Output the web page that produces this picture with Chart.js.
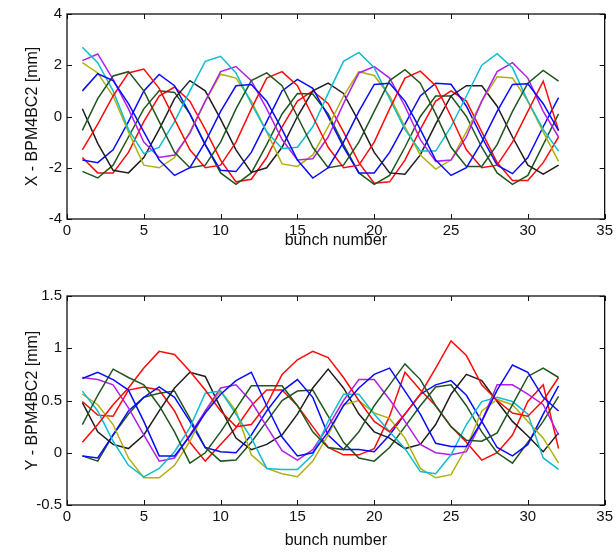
<!DOCTYPE html>
<html>
<head>
<meta charset="utf-8">
<script src="https://cdn.jsdelivr.net/npm/chart.js@4.4.1/dist/chart.umd.min.js"></script>
<style>
  html, body { margin: 0; padding: 0; background: #fff; }
  #wrap { position: relative; width: 616px; height: 554px; }
  canvas { position: absolute; left: 0; }
  #topChart { top: 0; }
  #bottomChart { top: 277px; }
</style>
</head>
<body>
<div id="wrap">
  <canvas id="topChart" width="616" height="277"></canvas>
  <canvas id="bottomChart" width="616" height="277"></canvas>
</div>
<script>
// bunch index (x axis)
const bunches = [1, 2, 3, 4, 5, 6, 7, 8, 9, 10, 11, 12, 13, 14, 15, 16,
                 17, 18, 19, 20, 21, 22, 23, 24, 25, 26, 27, 28, 29, 30, 31, 32];

// tick labels
const xTicks = [0, 5, 10, 15, 20, 25, 30, 35];
const xTopTicks = [-4, -2, 0, 2, 4];
const yBottomTicks = [-0.5, 0, 0.5, 1, 1.5];

// MATLAB colour order, 10 traces
const traceColors = ["#0a0aff", "#205520", "#ff0a0a", "#10bcd0", "#b020e8",
                     "#b0b010", "#1e1e1e", "#0a0aff", "#205520", "#ff0a0a"];

// --- X - BPM4BC2 [mm] ---
const xBlue1 = [1.0, 1.67, 1.4, 0.5, -0.6, -1.7, -2.3, -2.0, -1.0, 0.2, 1.2, 1.25, 0.6, -0.5, -1.7, -2.4,
                -2.0, -1.0, 0.2, 1.25, 1.3, 0.6, -0.5, -1.7, -2.3, -2.0, -1.0, 0.2, 1.25, 1.28, 0.5, -0.55];
const xGreen1 = [-0.54, 0.7, 1.58, 1.75, 1.0, -0.2, -1.4, -2.0, -1.9, -1.0, 0.3, 1.4, 1.7, 1.2, 0.0, -1.2,
                 -2.0, -1.9, -1.0, 0.2, 1.4, 1.83, 1.3, 0.1, -1.2, -1.95, -1.95, -1.1, 0.2, 1.3, 1.8, 1.38];
const xRed1 = [-1.3, -0.3, 0.8, 1.7, 1.85, 1.1, -0.1, -1.3, -2.0, -1.9, -1.0, 0.3, 1.5, 1.75, 1.2, 0.0,
               -1.2, -2.0, -1.9, -1.0, 0.3, 1.5, 1.77, 1.2, 0.0, -1.3, -2.0, -1.9, -1.0, 0.2, 1.38, -0.55];
const xCyan = [2.7, 2.1, 1.0, -0.5, -1.45, -1.2, -0.2, 1.0, 2.15, 2.35, 1.7, 0.5, -0.6, -1.25, -1.2, -0.4,
               0.9, 2.15, 2.5, 1.9, 0.7, -0.5, -1.35, -1.35, -0.4, 0.8, 2.0, 2.45, 1.9, 0.6, -0.5, -1.35];
const xMagenta = [2.18, 2.44, 1.45, 0.3, -1.0, -1.6, -1.5, -0.65, 0.6, 1.75, 1.95, 1.4, 0.3, -0.9, -1.7, -1.65,
                  -0.8, 0.5, 1.7, 1.95, 1.5, 0.4, -0.9, -1.75, -1.7, -0.8, 0.6, 1.75, 2.1, 1.5, 0.2, -0.8];
const xYellow = [2.1, 1.7, 0.8, -0.6, -1.9, -2.0, -1.6, -0.6, 0.6, 1.65, 1.5, 0.6, -0.6, -1.85, -1.95, -1.5,
                 -0.4, 0.8, 1.75, 1.6, 0.8, -0.4, -1.5, -2.05, -1.7, -0.6, 0.6, 1.55, 1.5, 0.6, -0.6, -1.75];
const xBlack = [0.3, -1.05, -2.1, -2.2, -1.6, -0.5, 0.7, 1.4, 1.0, -0.1, -1.3, -2.18, -2.0, -1.2, 0.0, 1.0,
                1.3, 0.9, -0.2, -1.4, -2.2, -2.25, -1.5, -0.3, 0.8, 1.2, 1.2, 0.4, -0.8, -1.9, -2.25, -1.9];
const xBlue2 = [-1.7, -1.8, -1.3, -0.2, 1.0, 1.64, 1.2, 0.1, -1.1, -2.1, -2.15, -1.4, -0.2, 1.0, 1.45, 1.1,
                0.0, -1.2, -2.2, -2.2, -1.4, -0.3, 0.8, 1.3, 1.26, 0.4, -0.8, -1.9, -2.23, -1.6, -0.4, 0.74];
const xGreen2 = [-2.14, -2.4, -1.9, -0.8, 0.3, 1.0, 0.94, 0.1, -1.1, -2.2, -2.65, -2.2, -1.1, 0.1, 0.9, 0.88,
                 0.1, -1.1, -2.2, -2.65, -2.3, -1.2, 0.0, 0.8, 0.8, 0.0, -1.2, -2.2, -2.65, -2.3, -1.1, 0.1];
const xRed2 = [-1.6, -2.2, -2.2, -1.4, -0.2, 0.8, 1.15, 0.6, -0.5, -1.7, -2.55, -2.45, -1.6, -0.4, 0.6, 1.0,
               0.5, -0.6, -1.8, -2.6, -2.55, -1.7, -0.5, 0.6, 1.0, 0.6, -0.6, -1.8, -2.5, -2.5, -1.8, -0.8];

// --- Y - BPM4BC2 [mm] ---
const yBlue1 = [0.71, 0.77, 0.7, 0.6, 0.3, -0.03, -0.03, 0.16, 0.38, 0.56, 0.69, 0.77, 0.45, 0.15, -0.03, 0.0,
                0.2, 0.45, 0.62, 0.75, 0.81, 0.59, 0.37, 0.09, 0.06, 0.06, 0.3, 0.6, 0.84, 0.77, 0.53, 0.4];
const yGreen1 = [0.27, 0.55, 0.8, 0.72, 0.65, 0.45, 0.2, -0.1, 0.0, 0.2, 0.42, 0.64, 0.64, 0.64, 0.45, 0.2,
                 0.05, 0.03, 0.2, 0.45, 0.65, 0.85, 0.7, 0.45, 0.25, 0.12, 0.11, 0.19, 0.46, 0.73, 0.81, 0.72];
const yRed1 = [0.1, 0.27, 0.46, 0.62, 0.81, 0.97, 0.94, 0.78, 0.6, 0.4, 0.25, 0.27, 0.46, 0.75, 0.89, 0.97,
               0.91, 0.72, 0.5, 0.3, 0.2, 0.37, 0.56, 0.81, 1.07, 0.93, 0.65, 0.5, 0.38, 0.35, 0.5, 0.72];
const yCyan = [0.59, 0.4, 0.11, -0.12, -0.23, -0.15, 0.01, 0.24, 0.57, 0.59, 0.37, 0.14, -0.15, -0.16, -0.16, -0.02,
               0.3, 0.56, 0.56, 0.37, 0.2, 0.04, -0.18, -0.2, -0.02, 0.27, 0.49, 0.53, 0.49, 0.37, -0.05, -0.16];
const yMagenta = [0.72, 0.7, 0.65, 0.43, 0.17, -0.08, -0.05, 0.17, 0.4, 0.62, 0.65, 0.49, 0.25, 0.02, -0.07, 0.03,
                  0.25, 0.5, 0.7, 0.7, 0.51, 0.3, 0.08, 0.0, -0.02, 0.01, 0.3, 0.65, 0.65, 0.56, 0.46, 0.17];
const yYellow = [0.56, 0.46, 0.27, -0.05, -0.24, -0.24, -0.12, 0.11, 0.4, 0.59, 0.4, -0.02, -0.15, -0.2, -0.23, -0.08,
                 0.17, 0.46, 0.5, 0.38, 0.33, 0.14, -0.15, -0.24, -0.21, 0.05, 0.4, 0.51, 0.46, 0.3, 0.14, -0.1];
const yBlack = [0.48, 0.2, 0.08, 0.04, 0.17, 0.4, 0.62, 0.77, 0.73, 0.43, 0.14, 0.03, 0.08, 0.17, 0.37, 0.62,
                0.8, 0.62, 0.37, 0.2, 0.14, 0.04, 0.08, 0.27, 0.56, 0.75, 0.69, 0.49, 0.3, 0.16, 0.01, 0.19];
const yBlue2 = [-0.03, -0.05, 0.17, 0.4, 0.53, 0.63, 0.53, 0.3, 0.05, 0.01, 0.0, 0.17, 0.4, 0.59, 0.7, 0.53,
                0.17, 0.03, 0.03, 0.01, 0.17, 0.37, 0.56, 0.65, 0.69, 0.55, 0.3, 0.05, -0.03, 0.08, 0.37, 0.64];
const yGreen2 = [-0.03, -0.08, 0.17, 0.37, 0.53, 0.57, 0.59, 0.33, 0.05, -0.08, -0.07, 0.1, 0.3, 0.5, 0.59, 0.6,
                 0.35, 0.1, -0.05, -0.08, 0.05, 0.25, 0.45, 0.63, 0.65, 0.45, 0.2, 0.0, -0.1, 0.1, 0.3, 0.54];
const yRed2 = [0.49, 0.36, 0.35, 0.6, 0.63, 0.6, 0.4, 0.1, -0.08, 0.08, 0.24, 0.45, 0.6, 0.6, 0.45, 0.25,
               0.05, -0.02, -0.02, 0.04, 0.35, 0.77, 0.6, 0.45, 0.25, 0.1, -0.07, 0.0, 0.17, 0.49, 0.65, 0.04];

const xSeries = [xBlue1, xGreen1, xRed1, xCyan, xMagenta, xYellow, xBlack, xBlue2, xGreen2, xRed2];
const ySeries = [yBlue1, yGreen1, yRed1, yCyan, yMagenta, yYellow, yBlack, yBlue2, yGreen2, yRed2];

const FONT = "'Liberation Sans', Arial, Helvetica, sans-serif";

// MATLAB style box with inward ticks on all four sides
const boxTicks = {
    id: "boxTicks",
    afterDraw(chart) {
        const { ctx, chartArea: a, scales } = chart;
        const len = 5;
        ctx.save();
        ctx.strokeStyle = "#111";
        ctx.lineWidth = 1;
        ctx.beginPath();
        scales.x.ticks.forEach((t, i) => {
            const px = Math.round(scales.x.getPixelForTick(i)) + 0.5;
            ctx.moveTo(px, a.bottom); ctx.lineTo(px, a.bottom - len);
            ctx.moveTo(px, a.top); ctx.lineTo(px, a.top + len);
        });
        scales.y.ticks.forEach((t, i) => {
            const py = Math.round(scales.y.getPixelForTick(i)) + 0.5;
            ctx.moveTo(a.left, py); ctx.lineTo(a.left + len, py);
            ctx.moveTo(a.right, py); ctx.lineTo(a.right - len, py);
        });
        ctx.stroke();
        ctx.lineWidth = 1.3;
        ctx.strokeRect(a.left, a.top, a.right - a.left, a.bottom - a.top);
        ctx.restore();
    }
};

function buildChart(canvasId, series, cfg) {
    const datasets = series.map((vals, i) => ({
        data: vals.map((v, k) => ({ x: bunches[k], y: v })),
        borderColor: traceColors[i],
        borderWidth: 1.5,
        pointRadius: 0,
        tension: 0,
        fill: false
    }));

    return new Chart(document.getElementById(canvasId), {
        type: "line",
        data: { datasets },
        options: {
            responsive: false,
            animation: false,
            events: [],
            layout: { padding: { top: cfg.padTop, right: 10, left: 0, bottom: 0 } },
            plugins: { legend: { display: false }, tooltip: { enabled: false } },
            scales: {
                x: {
                    type: "linear",
                    min: 0,
                    max: 35,
                    afterBuildTicks: s => { s.ticks = xTicks.map(v => ({ value: v })); },
                    afterFit: s => { s.height = cfg.xHeight; },
                    grid: { display: false, drawTicks: false },
                    border: { display: false },
                    ticks: {
                        padding: 3,
                        color: "#111",
                        font: { family: FONT, size: 15 },
                        maxRotation: 0,
                        callback: v => String(v)
                    },
                    title: {
                        display: true,
                        text: "bunch number",
                        color: "#111",
                        font: { family: FONT, size: 16 },
                        padding: { top: 0, bottom: cfg.xTitlePad }
                    }
                },
                y: {
                    type: "linear",
                    min: cfg.yTicks[0],
                    max: cfg.yTicks[cfg.yTicks.length - 1],
                    afterBuildTicks: s => { s.ticks = cfg.yTicks.map(v => ({ value: v })); },
                    afterFit: s => { s.width = 67; },
                    grid: { display: false, drawTicks: false },
                    border: { display: false },
                    ticks: {
                        padding: 5,
                        color: "#111",
                        font: { family: FONT, size: 15 },
                        callback: v => String(v)
                    },
                    title: {
                        display: true,
                        text: cfg.yTitle,
                        color: "#111",
                        font: { family: FONT, size: 16 },
                        padding: { top: 23, bottom: 0 }
                    }
                }
            }
        },
        plugins: [boxTicks]
    });
}

buildChart("topChart", xSeries, {
    padTop: 13, xHeight: 58, xTitlePad: 27,
    yTicks: xTopTicks, yTitle: "X - BPM4BC2 [mm]"
});

buildChart("bottomChart", ySeries, {
    padTop: 19, xHeight: 49, xTitlePad: 4,
    yTicks: yBottomTicks, yTitle: "Y - BPM4BC2 [mm]"
});
</script>
</body>
</html>
